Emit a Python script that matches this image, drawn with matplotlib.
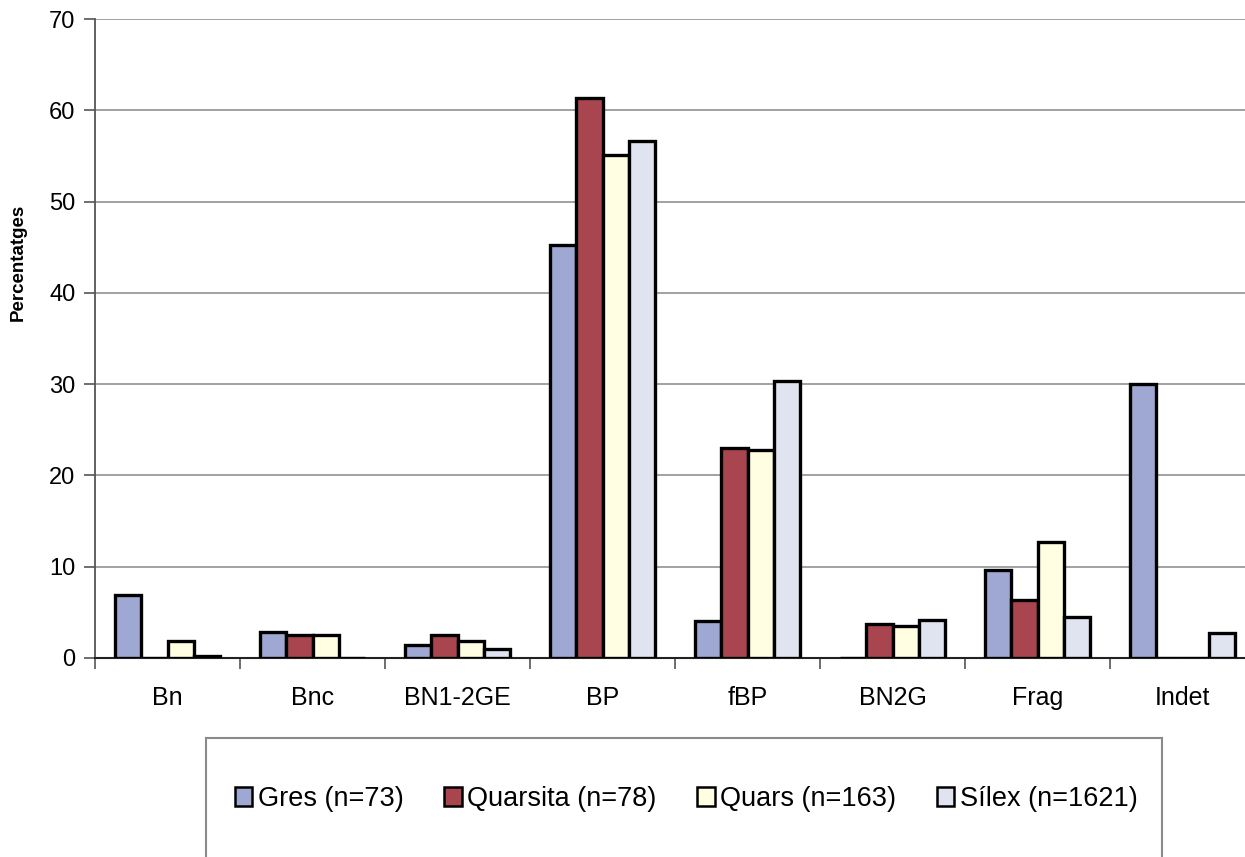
import numpy as np
import matplotlib.pyplot as plt
from matplotlib.patches import Rectangle, Patch

plt.rcParams['font.family'] = ['Liberation Sans', 'DejaVu Sans']

categories = ["Bn", "Bnc", "BN1-2GE", "BP", "fBP", "BN2G", "Frag", "Indet"]
series_names = ["Gres (n=73)", "Quarsita (n=78)", "Quars (n=163)", "Sílex (n=1621)"]
gres = [6.9, 2.8, 1.4, 45.2, 4.0, 0.0, 9.6, 30.0]
quarsita = [0.0, 2.5, 2.5, 61.4, 23.0, 3.7, 6.3, 0.0]
quars = [1.9, 2.5, 1.9, 55.1, 22.8, 3.5, 12.7, 0.0]
silex = [0.2, 0.0, 1.0, 56.6, 30.3, 4.2, 4.5, 2.7]
colors = ["#9ea8d2", "#a8454f", "#fffde2", "#dfe4f0"]

fig = plt.figure(figsize=(12.45, 8.57), dpi=100)
W, H = 1245, 857
ax = fig.add_axes([95 / W, 1 - 658 / H, (1255 - 95) / W, (658 - 19) / H])

x = np.arange(len(categories))
bw = 0.73 / 4
for i, vals in enumerate([gres, quarsita, quars, silex]):
    ax.bar(x + (i - 1.5) * bw, vals, bw, color=colors[i], edgecolor="black",
           linewidth=2.4, zorder=3)

ax.set_xlim(-0.5, len(categories) - 0.5)
ax.set_ylim(0, 70)
ax.set_yticks(range(0, 71, 10))
ax.yaxis.grid(True, color="#9a9a9a", linewidth=1.3, zorder=0)
ax.set_axisbelow(True)

ax.set_xticks(x)
ax.set_xticklabels(categories, fontsize=18)
ax.set_xticks(np.arange(-0.5, len(categories)), minor=True)
ax.tick_params(axis="x", which="major", length=0, pad=20)
ax.tick_params(axis="x", which="minor", length=8, width=1.2, color="#555555")
ax.tick_params(axis="y", length=8, width=1.2, color="#555555", labelsize=17, pad=6)

for s in ["top", "right"]:
    ax.spines[s].set_visible(False)
ax.spines["left"].set_color("#555555")
ax.spines["left"].set_linewidth(1.3)
ax.spines["bottom"].set_color("#222222")
ax.spines["bottom"].set_linewidth(1.5)

fig.text(18 / W, 1 - 262 / H, "Percentatges", rotation=90, fontsize=13.5,
         fontweight="bold", ha="center", va="center")

# legend frame runs past the lower edge
fig.patches.append(Rectangle((206 / W, 1 - 880 / H), (1162 - 206) / W, (880 - 738) / H,
                             transform=fig.transFigure, facecolor="white",
                             edgecolor="#8a8a8a", linewidth=1.5, zorder=0))
handles = [Patch(facecolor=c, edgecolor="black", linewidth=1.8) for c in colors]
fig.legend(handles, series_names, loc="center", bbox_to_anchor=(686 / W, 1 - 799 / H),
           ncol=4, frameon=False, fontsize=19.5, handlelength=0.65, handleheight=0.65,
           handletextpad=0.2, columnspacing=1.5)

fig.savefig("out.png", dpi=100)
